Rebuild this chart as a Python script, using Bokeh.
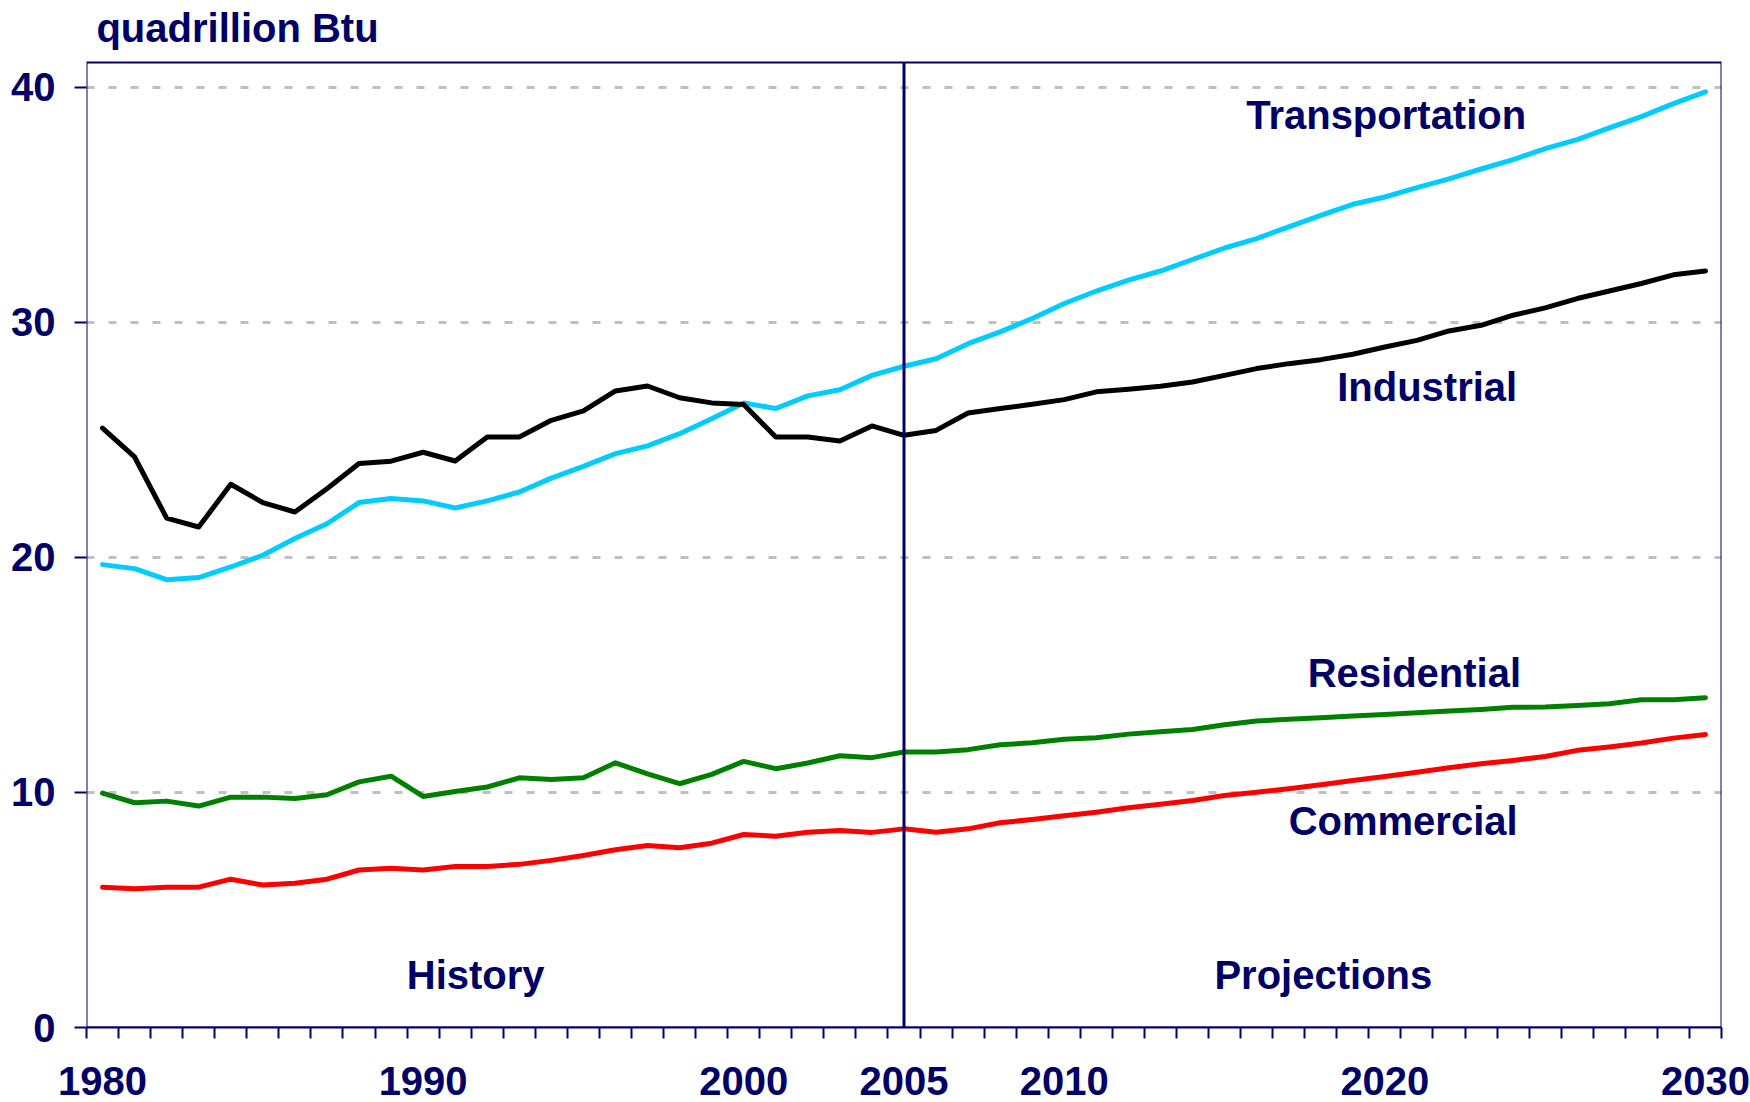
from bokeh.plotting import figure
from bokeh.models import Range1d, FixedTicker, BoxAnnotation, Label
from bokeh.embed import file_html
from bokeh.resources import INLINE

# ---------------- data ----------------
years = list(range(1980, 2031))

transportation = [19.69, 19.52, 19.05, 19.14, 19.59, 20.09, 20.80, 21.43, 22.33, 22.50,
                  22.40, 22.10, 22.40, 22.78, 23.37, 23.87, 24.41, 24.74, 25.26, 25.90,
                  26.57, 26.33, 26.87, 27.13, 27.74, 28.13, 28.45, 29.09, 29.59, 30.16,
                  30.80, 31.33, 31.79, 32.18, 32.67, 33.16, 33.56, 34.06, 34.55, 35.02,
                  35.33, 35.73, 36.10, 36.52, 36.92, 37.39, 37.77, 38.27, 38.75, 39.30,
                  39.80]

industrial = [25.50, 24.27, 21.67, 21.29, 23.11, 22.33, 21.93, 22.92, 23.99, 24.09,
              24.47, 24.10, 25.12, 25.12, 25.83, 26.23, 27.08, 27.29, 26.79, 26.57,
              26.50, 25.12, 25.12, 24.95, 25.59, 25.19, 25.40, 26.14, 26.33, 26.51,
              26.71, 27.04, 27.15, 27.28, 27.46, 27.74, 28.03, 28.24, 28.41, 28.64,
              28.95, 29.23, 29.63, 29.87, 30.30, 30.61, 31.01, 31.33, 31.65, 32.02,
              32.18]

residential = [9.97, 9.56, 9.63, 9.42, 9.80, 9.80, 9.74, 9.90, 10.45, 10.69,
               9.83, 10.04, 10.23, 10.62, 10.55, 10.62, 11.26, 10.79, 10.37, 10.77,
               11.32, 11.01, 11.25, 11.56, 11.48, 11.72, 11.72, 11.82, 12.03, 12.11,
               12.26, 12.33, 12.48, 12.58, 12.68, 12.88, 13.04, 13.11, 13.18, 13.25,
               13.32, 13.39, 13.46, 13.53, 13.62, 13.63, 13.70, 13.77, 13.94, 13.94,
               14.03]

commercial = [5.97, 5.90, 5.97, 5.97, 6.31, 6.06, 6.14, 6.31, 6.70, 6.77,
              6.70, 6.85, 6.85, 6.94, 7.11, 7.32, 7.56, 7.74, 7.65, 7.84,
              8.21, 8.14, 8.31, 8.38, 8.30, 8.45, 8.31, 8.45, 8.71, 8.85,
              9.01, 9.16, 9.35, 9.50, 9.66, 9.87, 10.01, 10.16, 10.33, 10.51,
              10.68, 10.86, 11.05, 11.22, 11.36, 11.53, 11.79, 11.93, 12.10, 12.31,
              12.46]

series_names = ["Transportation", "Industrial", "Residential", "Commercial"]
period_names = ["History", "Projections"]
x_tick_labels = [1980, 1990, 2000, 2005, 2010, 2020, 2030]
y_ticks = [0, 10, 20, 30, 40]
projection_start = 2005
unit_title = "quadrillion Btu"

# ---------------- styles ----------------
NAVY = "#000066"
FONT = "Liberation Sans"
FS = "40px"
series_colors = {"Transportation": "#00CCFF", "Industrial": "#000000",
                 "Residential": "#008000", "Commercial": "#FF0000"}
label_pos = {"Transportation": (2020.04, 38.83), "Industrial": (2021.32, 27.25),
             "Residential": (2020.92, 15.09), "Commercial": (2020.57, 8.79),
             "History": (1991.64, 2.24), "Projections": (2018.08, 2.24)}
title_pos = (1979.81, 42.53)

series_values = {"Transportation": transportation, "Industrial": industrial,
                 "Residential": residential, "Commercial": commercial}

W, H = 1750, 1102
FL, FR, TOP, FB = 86, 1721, 10, 1027   # canvas edges in page pixels
PX_PER_UNIT = 23.5
Y_BOX_TOP = 41.05                       # top of the drawn plot box (data units)
y_top = Y_BOX_TOP + (62 - TOP) / PX_PER_UNIT   # extra headroom holds the unit title

p = figure(width=W, height=H, output_backend="svg", toolbar_location=None,
           x_range=Range1d(years[0] - 0.5, years[-1] + 0.5),
           y_range=Range1d(0, y_top),
           min_border_left=FL, min_border_right=W - FR,
           min_border_top=TOP, min_border_bottom=H - FB,
           background_fill_color="white", border_fill_color="white")
p.title.text = ""
p.outline_line_color = None

# plot box
p.add_layout(BoxAnnotation(left=years[0] - 0.5, right=years[-1] + 0.5,
                           bottom=0, top=Y_BOX_TOP, fill_color=None, fill_alpha=0,
                           line_color=NAVY, line_alpha=1.0, line_width=2,
                           level="underlay"))

# grid
p.xgrid.visible = False
p.ygrid.ticker = FixedTicker(ticks=y_ticks)
p.ygrid.grid_line_color = "#C0C0C0"
p.ygrid.grid_line_width = 3
p.ygrid.grid_line_dash = "8 14"

# x axis: tick marks at category boundaries, labels at category centres
boundaries = [y - 0.5 for y in years] + [years[-1] + 0.5]
xa = p.xaxis[0]
xa.ticker = FixedTicker(ticks=x_tick_labels, minor_ticks=boundaries)
xa.axis_line_color = NAVY
xa.axis_line_width = 2
xa.major_tick_line_color = None
xa.major_tick_out = 11
xa.major_tick_in = 0
xa.minor_tick_line_color = NAVY
xa.minor_tick_line_width = 2
xa.minor_tick_out = 11
xa.minor_tick_in = 0
xa.major_label_standoff = 28
xa.major_label_text_font = FONT
xa.major_label_text_font_size = FS
xa.major_label_text_font_style = "bold"
xa.major_label_text_color = NAVY

ya = p.yaxis[0]
ya.ticker = FixedTicker(ticks=y_ticks, minor_ticks=[])
ya.axis_line_color = None
ya.major_tick_line_color = NAVY
ya.major_tick_line_width = 2
ya.major_tick_out = 12
ya.major_tick_in = 0
ya.minor_tick_line_color = None
ya.major_label_standoff = 19
ya.major_label_text_font = FONT
ya.major_label_text_font_size = FS
ya.major_label_text_font_style = "bold"
ya.major_label_text_color = NAVY

# series lines
for name in series_names:
    p.line(years, series_values[name], line_color=series_colors[name],
           line_width=5, line_join="round", line_cap="round")

# history / projections divider (from the x axis to the top of the box)
p.segment(x0=[projection_start], y0=[0], x1=[projection_start], y1=[Y_BOX_TOP],
          line_color=NAVY, line_width=3)

# unit title
p.add_layout(Label(x=title_pos[0], y=title_pos[1], text=unit_title,
                   text_align="left", text_baseline="alphabetic",
                   text_font=FONT, text_font_size=FS, text_font_style="bold",
                   text_color=NAVY))

# text labels
for name in series_names + period_names:
    x, y = label_pos[name]
    p.add_layout(Label(x=x, y=y, text=name, text_align="center",
                       text_baseline="alphabetic", text_font=FONT,
                       text_font_size=FS, text_font_style="bold",
                       text_color=NAVY))

open("out.html", "w").write(file_html(p, INLINE))
